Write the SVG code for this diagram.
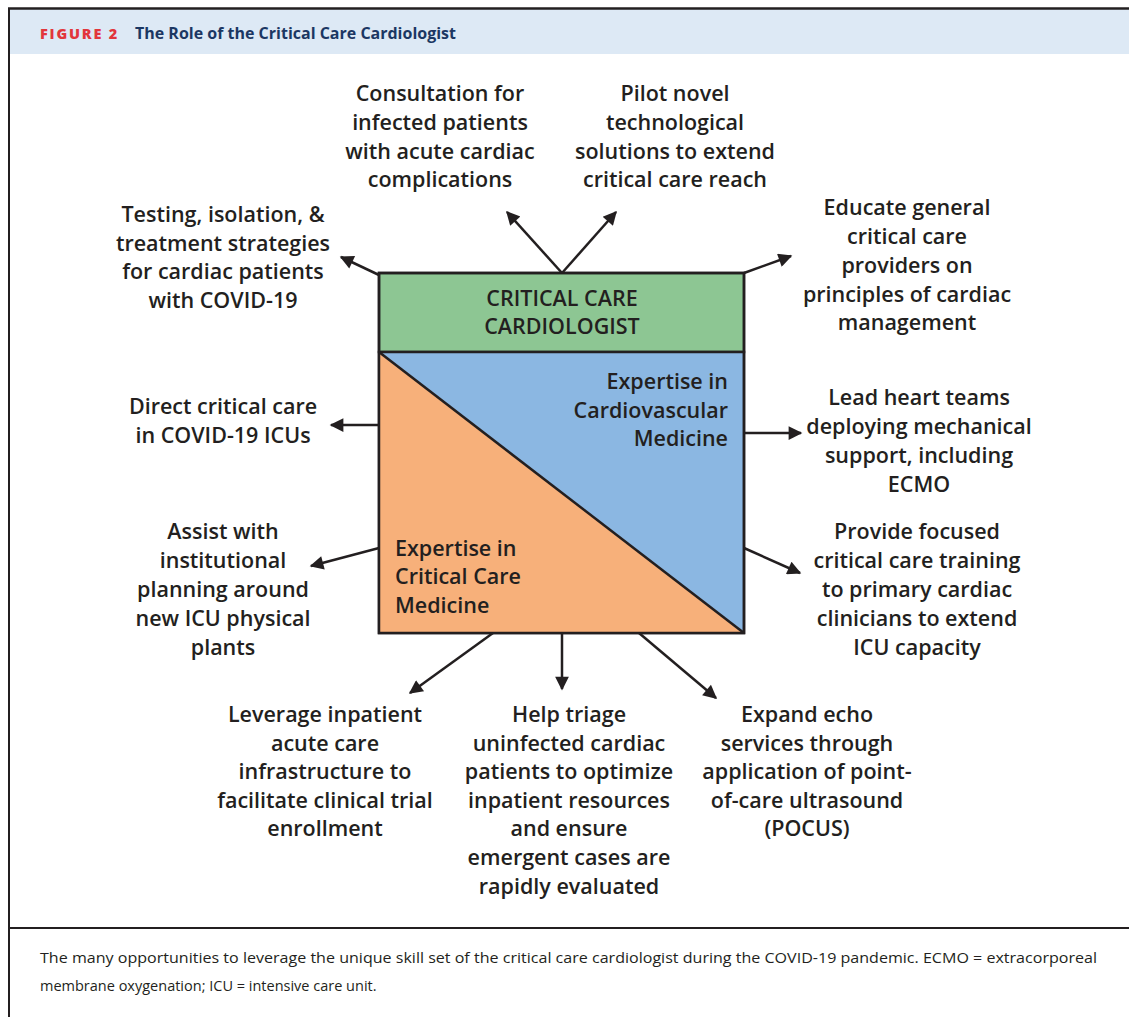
<svg xmlns="http://www.w3.org/2000/svg" width="1129" height="1017" viewBox="0 0 1129 1017">
  <style>
    .lbl { font-family: "Open Sans", "Noto Sans", sans-serif; font-size: 21.5px; font-weight: 600; fill: #231f20; text-anchor: middle; }
    .box { font-family: "Open Sans", "Noto Sans", sans-serif; font-size: 21.5px; font-weight: 600; fill: #231f20; }
    .cap { font-family: "Open Sans", "Noto Sans", sans-serif; font-size: 14.5px; fill: #231f20; }
    .conn { stroke: #231f20; stroke-width: 2.5; fill: none; marker-end: url(#arrow); }
  </style>
  <defs>
    <marker id="arrow" viewBox="0 0 10 10" refX="9" refY="5" markerWidth="6.5" markerHeight="5.5" orient="auto" markerUnits="strokeWidth">
      <path d="M0,0 L10,5 L0,10 Z" fill="#231f20"/>
    </marker>
  </defs>

  <rect width="1129" height="1017" fill="#ffffff"/>

  <!-- figure frame and title band -->
  <g id="frame">
    <rect x="10" y="9" width="1119" height="45" fill="#dde9f5"/>
    <line x1="8" y1="8.5" x2="1129" y2="8.5" stroke="#231f20" stroke-width="2.5"/>
    <line x1="9" y1="8" x2="9" y2="1017" stroke="#231f20" stroke-width="2"/>
    <line x1="9" y1="928" x2="1129" y2="928" stroke="#231f20" stroke-width="2"/>
    <text x="40" y="38.5" font-family="'Open Sans', sans-serif" font-size="14.5px" font-weight="800" letter-spacing="1.8" fill="#e2363c">FIGURE 2</text>
    <text x="135" y="38.5" font-family="'Open Sans', sans-serif" font-size="15.5px" font-weight="700" fill="#1b3763" textLength="321" lengthAdjust="spacingAndGlyphs">The Role of the Critical Care Cardiologist</text>
  </g>

  <!-- central block -->
  <g id="cardiologist">
    <rect x="379" y="273" width="365" height="79" fill="#8dc693" stroke="#231f20" stroke-width="2.5"/>
    <rect x="379" y="352" width="365" height="281" fill="#8bb7e2" stroke="#231f20" stroke-width="2.5"/>
    <path d="M379,352 L744,633 L379,633 Z" fill="#f7b07a"/>
    <line x1="379" y1="352" x2="744" y2="633" stroke="#231f20" stroke-width="2.5"/>
    <rect x="379" y="273" width="365" height="360" fill="none" stroke="#231f20" stroke-width="2.5"/>
    <text class="box" x="562" y="306" text-anchor="middle">CRITICAL CARE</text>
    <text class="box" x="562" y="334" text-anchor="middle">CARDIOLOGIST</text>
  </g>
  <g id="cv-expertise">
    <text class="box" x="728" y="389" text-anchor="end">Expertise in</text>
    <text class="box" x="728" y="418" text-anchor="end">Cardiovascular</text>
    <text class="box" x="728" y="446" text-anchor="end">Medicine</text>
  </g>
  <g id="cc-expertise">
    <text class="box" x="395" y="556">Expertise in</text>
    <text class="box" x="395" y="584">Critical Care</text>
    <text class="box" x="395" y="613">Medicine</text>
  </g>

  <!-- connectors -->
  <g id="connectors">
    <line class="conn" x1="379" y1="275" x2="341" y2="257"/>
    <line class="conn" x1="562" y1="273" x2="507" y2="212"/>
    <line class="conn" x1="562" y1="273" x2="616" y2="212"/>
    <line class="conn" x1="744" y1="273" x2="791" y2="256"/>
    <line class="conn" x1="379" y1="425" x2="331" y2="425"/>
    <line class="conn" x1="744" y1="433" x2="801" y2="433"/>
    <line class="conn" x1="379" y1="548" x2="311" y2="566"/>
    <line class="conn" x1="744" y1="548" x2="800" y2="573"/>
    <line class="conn" x1="493" y1="633" x2="410" y2="693"/>
    <line class="conn" x1="562" y1="633" x2="562" y2="689"/>
    <line class="conn" x1="639" y1="633" x2="716" y2="698"/>
  </g>

  <!-- outcome labels -->
  <g id="testing">
    <text class="lbl" x="223" y="222">Testing, isolation, &amp;</text>
    <text class="lbl" x="223" y="251">treatment strategies</text>
    <text class="lbl" x="223" y="279">for cardiac patients</text>
    <text class="lbl" x="223" y="308">with COVID-19</text>
  </g>
  <g id="consultation">
    <text class="lbl" x="440" y="101">Consultation for</text>
    <text class="lbl" x="440" y="130">infected patients</text>
    <text class="lbl" x="440" y="159">with acute cardiac</text>
    <text class="lbl" x="440" y="187">complications</text>
  </g>
  <g id="pilot">
    <text class="lbl" x="675" y="101">Pilot novel</text>
    <text class="lbl" x="675" y="130">technological</text>
    <text class="lbl" x="675" y="159">solutions to extend</text>
    <text class="lbl" x="675" y="187">critical care reach</text>
  </g>
  <g id="educate">
    <text class="lbl" x="907" y="215">Educate general</text>
    <text class="lbl" x="907" y="244">critical care</text>
    <text class="lbl" x="907" y="273">providers on</text>
    <text class="lbl" x="907" y="302">principles of cardiac</text>
    <text class="lbl" x="907" y="330">management</text>
  </g>
  <g id="direct">
    <text class="lbl" x="223" y="414">Direct critical care</text>
    <text class="lbl" x="223" y="443">in COVID-19 ICUs</text>
  </g>
  <g id="lead">
    <text class="lbl" x="919" y="405">Lead heart teams</text>
    <text class="lbl" x="919" y="434">deploying mechanical</text>
    <text class="lbl" x="919" y="463">support, including</text>
    <text class="lbl" x="919" y="492">ECMO</text>
  </g>
  <g id="assist">
    <text class="lbl" x="223" y="539">Assist with</text>
    <text class="lbl" x="223" y="568">institutional</text>
    <text class="lbl" x="223" y="597">planning around</text>
    <text class="lbl" x="223" y="626">new ICU physical</text>
    <text class="lbl" x="223" y="655">plants</text>
  </g>
  <g id="provide">
    <text class="lbl" x="917" y="539">Provide focused</text>
    <text class="lbl" x="917" y="568">critical care training</text>
    <text class="lbl" x="917" y="597">to primary cardiac</text>
    <text class="lbl" x="917" y="626">clinicians to extend</text>
    <text class="lbl" x="917" y="655">ICU capacity</text>
  </g>
  <g id="leverage">
    <text class="lbl" x="325" y="722">Leverage inpatient</text>
    <text class="lbl" x="325" y="751">acute care</text>
    <text class="lbl" x="325" y="779">infrastructure to</text>
    <text class="lbl" x="325" y="808">facilitate clinical trial</text>
    <text class="lbl" x="325" y="836">enrollment</text>
  </g>
  <g id="triage">
    <text class="lbl" x="569" y="722">Help triage</text>
    <text class="lbl" x="569" y="751">uninfected cardiac</text>
    <text class="lbl" x="569" y="779">patients to optimize</text>
    <text class="lbl" x="569" y="808">inpatient resources</text>
    <text class="lbl" x="569" y="836">and ensure</text>
    <text class="lbl" x="569" y="865">emergent cases are</text>
    <text class="lbl" x="569" y="894">rapidly evaluated</text>
  </g>
  <g id="echo">
    <text class="lbl" x="807" y="722">Expand echo</text>
    <text class="lbl" x="807" y="751">services through</text>
    <text class="lbl" x="807" y="779">application of point-</text>
    <text class="lbl" x="807" y="808">of-care ultrasound</text>
    <text class="lbl" x="807" y="836">(POCUS)</text>
  </g>

  <!-- caption -->
  <g id="caption">
    <text class="cap" x="40" y="963" textLength="1057" lengthAdjust="spacingAndGlyphs">The many opportunities to leverage the unique skill set of the critical care cardiologist during the COVID-19 pandemic. ECMO = extracorporeal</text>
    <text class="cap" x="40" y="991">membrane oxygenation; ICU = intensive care unit.</text>
  </g>
</svg>
